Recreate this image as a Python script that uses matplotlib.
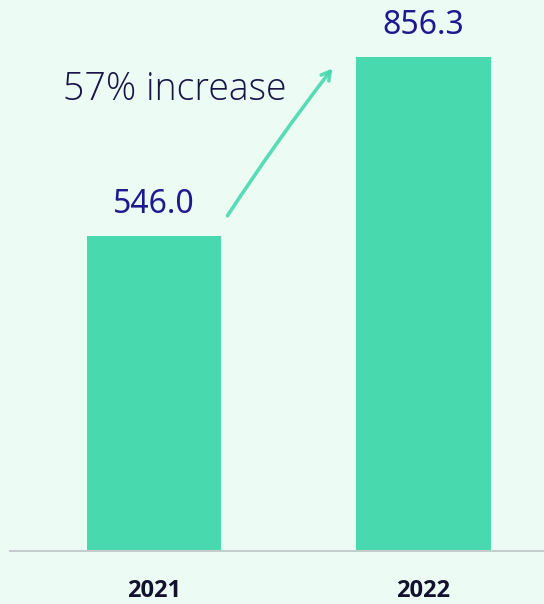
import matplotlib.pyplot as plt

years = ["2021", "2022"]
values = [546.0, 856.3]
value_labels = ["546.0", "856.3"]
change_text = "57% increase"

bg = "#edfbf5"
bar_color = "#48d9ae"

fig = plt.figure(figsize=(5.44, 6.04), dpi=100, facecolor=bg)
ax = fig.add_axes([10 / 544, 53 / 604, 1 - 10 / 544, 551 / 604])
ax.set_facecolor(bg)

pos = list(range(len(years)))
ax.bar(pos, values, width=0.5, color=bar_color, zorder=2)
ax.set_xlim(-0.534, 1.447)
ax.set_ylim(0, 955)

for p, v, lab in zip(pos, values, value_labels):
    ax.annotate(lab, xy=(p, v), xytext=(0, 23), textcoords="offset points",
                ha="center", va="center", fontsize=23, color="#1c1a8e",
                family="Noto Sans", fontweight=500)

# growth arrow + note
ax.annotate("", xy=(0.668, 840), xytext=(0.267, 577),
            arrowprops=dict(arrowstyle="->,head_length=0.6,head_width=0.35",
                            color=bar_color, lw=2.6, alpha=0.9,
                            connectionstyle="arc3,rad=-0.02"))
ax.text(0.078, 800, change_text, ha="center", va="center", fontsize=27,
        color="#17144a", family="Open Sans", fontweight="light")

ax.set_xticks(pos)
ax.set_xticklabels(years, fontsize=17, fontweight="bold", family="Open Sans",
                   color="#12122e")
ax.tick_params(axis="x", length=0, pad=20)
ax.set_yticks([])
for s in ["top", "right", "left"]:
    ax.spines[s].set_visible(False)
ax.spines["bottom"].set_color("#c5cccc")
ax.spines["bottom"].set_linewidth(1.5)

fig.savefig("out.png", dpi=100, facecolor=bg)
